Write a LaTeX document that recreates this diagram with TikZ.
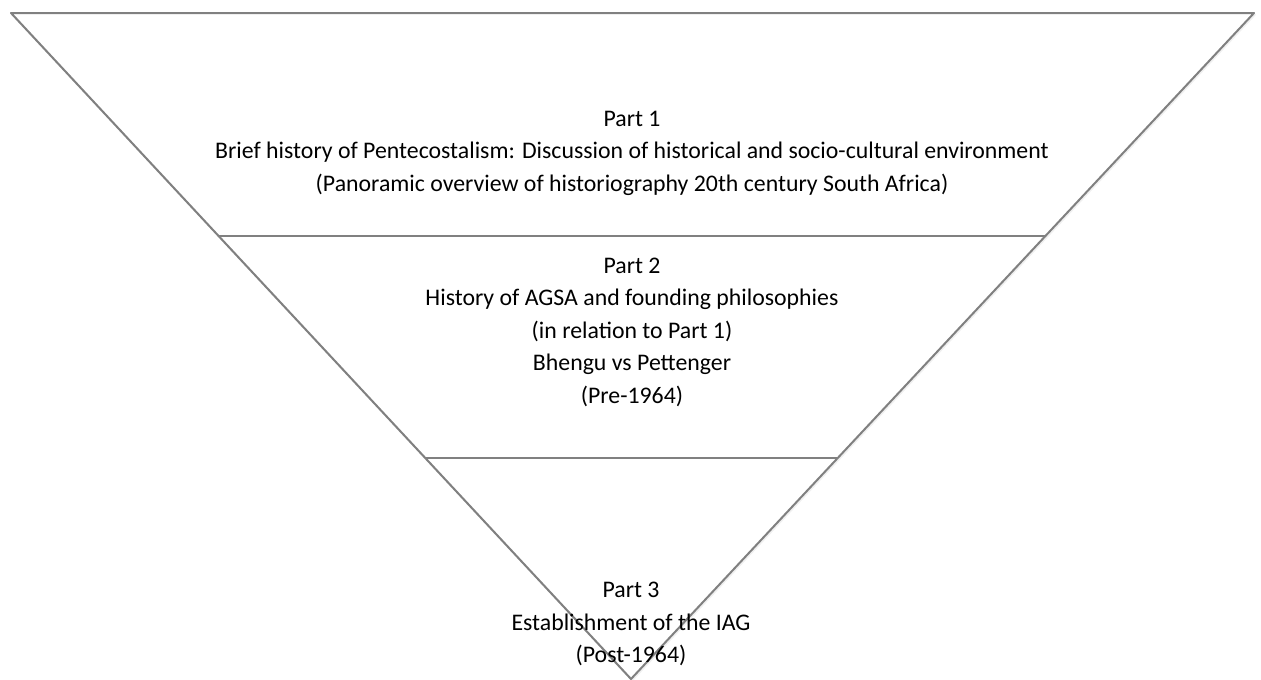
\documentclass[tikz,border=0pt]{standalone}
\usepackage{fontspec}
\setmainfont{Carlito}
\usetikzlibrary{positioning,calc}

\begin{document}
\begin{tikzpicture}[x=1pt,y=-1pt,
      font=\fontsize{23.8}{32.5}\selectfont,
      edge/.style={draw=black!50, line width=2pt, line join=round},
      shade/.style={draw=black!6, line width=2pt, line join=round},
      part/.style={align=center, inner sep=0pt}]
     \useasboundingbox (0,0) rectangle (1261,680);
     \coordinate (tl) at (11,13);
     \coordinate (tr) at (1254,13);
     \coordinate (tip) at (631,679);
     \coordinate (l1) at ($(tl)!0.335!(tip)$);
     \coordinate (r1) at ($(tr)!0.335!(tip)$);
     \coordinate (l2) at ($(tl)!0.668!(tip)$);
     \coordinate (r2) at ($(tr)!0.668!(tip)$);
     % soft shadow
     \draw[shade] ([shift={(1.2,1.2)}]tl) -- ([shift={(1.2,1.2)}]tip) -- ([shift={(1.2,1.2)}]tr);
     \draw[edge] (tl) -- (tr) -- (tip) -- cycle;
     \draw[edge] (l1) -- (r1);
     \draw[edge] (l2) -- (r2);
     \node[part] (part1) at (632,153) {Part 1\\Brief history of Pentecostalism: Discussion of historical and socio-cultural environment\\(Panoramic overview of historiography 20th century South Africa)};
     \node[part] (part2) at (632,332) {Part 2\\History of AGSA and founding philosophies\\(in relation to Part 1)\\Bhengu vs Pettenger\\(Pre-1964)};
     \node[part] (part3) at (631,624) {Part 3\\Establishment of the IAG\\(Post-1964)};
    \end{tikzpicture}
\end{document}
